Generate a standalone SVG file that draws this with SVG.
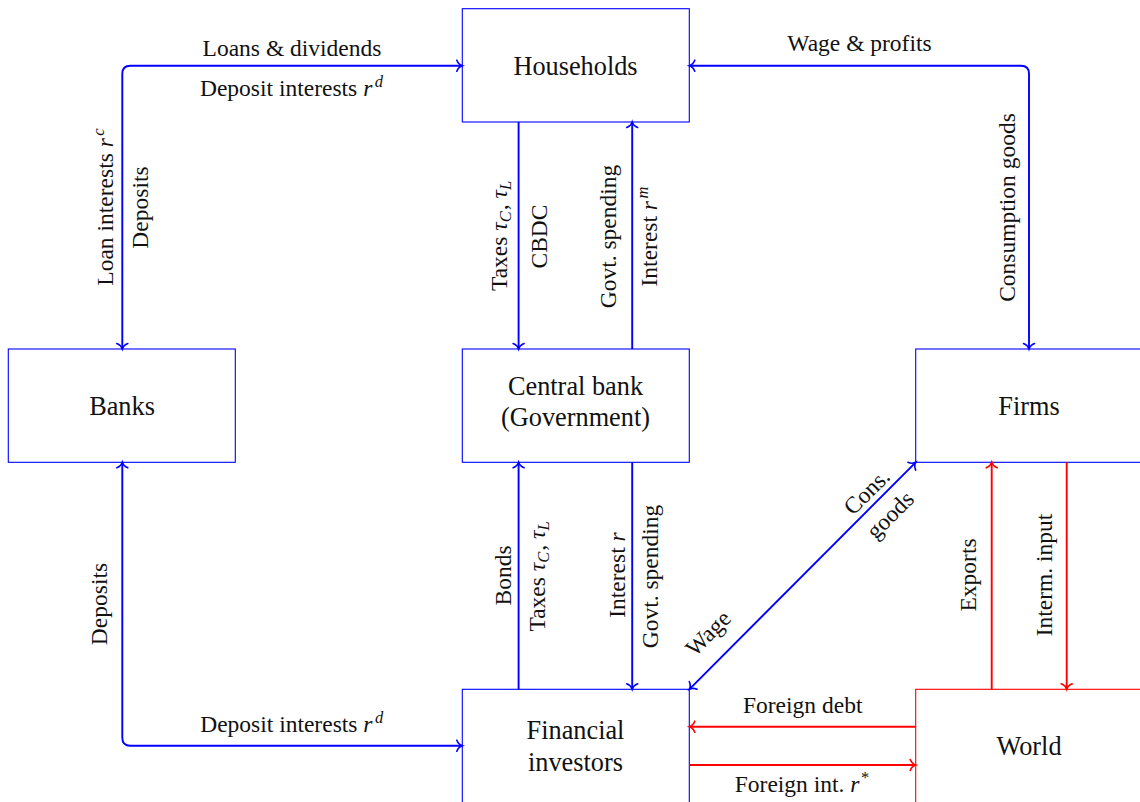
<svg xmlns="http://www.w3.org/2000/svg" width="1140" height="802" viewBox="0 0 1140 802">
<style>
  .box { fill: #ffffff; stroke: #0000ff; stroke-width: 1.1; }
  .rbox { fill: #ffffff; stroke: #ff0000; stroke-width: 1.1; }
  .node { font-family: "Liberation Serif", "Times New Roman", serif; font-size: 26.3px; fill: #111111; text-anchor: middle; }
  .lbl { font-family: "Liberation Serif", "Times New Roman", serif; font-size: 23.5px; fill: #111111; text-anchor: middle; }
  .m { font-style: italic; }
  .s { font-size: 16.5px; }
  .b { fill: none; stroke: #0000ff; stroke-width: 1.9; }
  .r { fill: none; stroke: #ff0000; stroke-width: 1.9; }
</style>
<defs>
  <marker id="ab" markerUnits="userSpaceOnUse" viewBox="-10 -8 12 16" refX="0" refY="0" markerWidth="12" markerHeight="16" orient="auto-start-reverse" overflow="visible">
    <path d="M -5.5,-5.5 C -4.5,-3 -2,-0.6 0,0 C -2,0.6 -4.5,3 -5.5,5.5" fill="none" stroke="#0000ff" stroke-width="1.6" stroke-linecap="round"/>
  </marker>
  <marker id="ar" markerUnits="userSpaceOnUse" viewBox="-10 -8 12 16" refX="0" refY="0" markerWidth="12" markerHeight="16" orient="auto-start-reverse" overflow="visible">
    <path d="M -5.5,-5.5 C -4.5,-3 -2,-0.6 0,0 C -2,0.6 -4.5,3 -5.5,5.5" fill="none" stroke="#ff0000" stroke-width="1.6" stroke-linecap="round"/>
  </marker>
</defs>
<rect x="0" y="0" width="1140" height="802" fill="#ffffff"/>

<g id="households">
  <rect class="box" x="462.3" y="8.7" width="227" height="113.3"/>
  <text class="node" x="575.5" y="74.5">Households</text>
</g>
<g id="banks">
  <rect class="box" x="8.3" y="349" width="227" height="113.3"/>
  <text class="node" x="122" y="414.5">Banks</text>
</g>
<g id="central-bank">
  <rect class="box" x="462.3" y="349" width="227" height="113.3"/>
  <text class="node" x="575.5" y="395.3">Central bank</text>
  <text class="node" x="575.5" y="426.3">(Government)</text>
</g>
<g id="firms">
  <rect class="box" x="915.7" y="349" width="227" height="113.3"/>
  <text class="node" x="1029" y="414.5">Firms</text>
</g>
<g id="financial-investors">
  <rect class="box" x="462.3" y="689.3" width="227" height="113.3"/>
  <text class="node" x="575.5" y="739.3">Financial</text>
  <text class="node" x="575.5" y="770.5">investors</text>
</g>
<g id="world">
  <rect class="rbox" x="915.7" y="689.3" width="227" height="113.3"/>
  <text class="node" x="1029" y="754.5">World</text>
</g>

<g id="connectors">
  <path class="b" d="M 122.3,349 L 122.3,73.7 Q 122.3,65.7 130.3,65.7 L 462.3,65.7" marker-start="url(#ab)" marker-end="url(#ab)"/>
  <path class="b" d="M 1029,349 L 1029,73.7 Q 1029,65.7 1021,65.7 L 689.3,65.7" marker-start="url(#ab)" marker-end="url(#ab)"/>
  <path class="b" d="M 122.3,462.3 L 122.3,737.7 Q 122.3,745.7 130.3,745.7 L 462.3,745.7" marker-start="url(#ab)" marker-end="url(#ab)"/>
  <path class="b" d="M 518.6,122 L 518.6,349" marker-end="url(#ab)"/>
  <path class="b" d="M 632.2,349 L 632.2,122" marker-end="url(#ab)"/>
  <path class="b" d="M 518.6,689.3 L 518.6,462.3" marker-end="url(#ab)"/>
  <path class="b" d="M 632.2,462.3 L 632.2,689.3" marker-end="url(#ab)"/>
  <path class="b" d="M 689.3,689.3 L 915.7,462.3" marker-start="url(#ab)" marker-end="url(#ab)"/>
  <path class="r" d="M 991.7,689.3 L 991.7,462.3" marker-end="url(#ar)"/>
  <path class="r" d="M 1066.7,462.3 L 1066.7,689.3" marker-end="url(#ar)"/>
  <path class="r" d="M 915.7,726.7 L 689.3,726.7" marker-end="url(#ar)"/>
  <path class="r" d="M 689.3,765 L 915.7,765" marker-end="url(#ar)"/>
</g>

<g id="labels">
  <text class="lbl" x="292" y="56">Loans &amp; dividends</text>
  <text class="lbl" x="291.5" y="96">Deposit interests <tspan class="m">r</tspan><tspan class="m s" dx="2.5" dy="-9">d</tspan></text>
  <text class="lbl" x="859.5" y="51">Wage &amp; profits</text>
  <text class="lbl" x="291.7" y="732">Deposit interests <tspan class="m">r</tspan><tspan class="m s" dx="2.5" dy="-9">d</tspan></text>
  <text class="lbl" x="802.7" y="713">Foreign debt</text>
  <text class="lbl" x="802" y="792">Foreign int. <tspan class="m">r</tspan><tspan class="s" dx="1.5" dy="-9">*</tspan></text>

  <text class="lbl" transform="translate(113,207) rotate(-90)">Loan interests <tspan class="m">r</tspan><tspan class="m s" dx="2.5" dy="-9">c</tspan></text>
  <text class="lbl" transform="translate(148,207.5) rotate(-90)">Deposits</text>
  <text class="lbl" transform="translate(506.5,236) rotate(-90)">Taxes <tspan class="m">τ</tspan><tspan class="m s" dy="4">C</tspan><tspan dx="1" dy="-4">, </tspan><tspan class="m">τ</tspan><tspan class="m s" dy="4">L</tspan></text>
  <text class="lbl" transform="translate(547.3,236.5) rotate(-90)">CBDC</text>
  <text class="lbl" transform="translate(615.5,236.5) rotate(-90)">Govt. spending</text>
  <text class="lbl" transform="translate(656.5,236.5) rotate(-90)">Interest <tspan class="m">r</tspan><tspan class="m s" dx="2.5" dy="-9">m</tspan></text>
  <text class="lbl" transform="translate(1015,207.5) rotate(-90)">Consumption goods</text>
  <text class="lbl" transform="translate(107,604) rotate(-90)">Deposits</text>
  <text class="lbl" transform="translate(511,575.5) rotate(-90)">Bonds</text>
  <text class="lbl" transform="translate(545,576.5) rotate(-90)">Taxes <tspan class="m">τ</tspan><tspan class="m s" dy="4">C</tspan><tspan dx="1" dy="-4">, </tspan><tspan class="m">τ</tspan><tspan class="m s" dy="4">L</tspan></text>
  <text class="lbl" transform="translate(625,575) rotate(-90)">Interest <tspan class="m">r</tspan></text>
  <text class="lbl" transform="translate(657.5,576.5) rotate(-90)">Govt. spending</text>
  <text class="lbl" transform="translate(976,575) rotate(-90)">Exports</text>
  <text class="lbl" transform="translate(1052,575) rotate(-90)">Interm. input</text>

  <text class="lbl" transform="translate(713.7,638.7) rotate(-45)">Wage</text>
  <text class="lbl" transform="translate(872.2,497.2) rotate(-45)">Cons.</text>
  <text class="lbl" transform="translate(895.5,520.5) rotate(-45)">goods</text>
</g>
</svg>
